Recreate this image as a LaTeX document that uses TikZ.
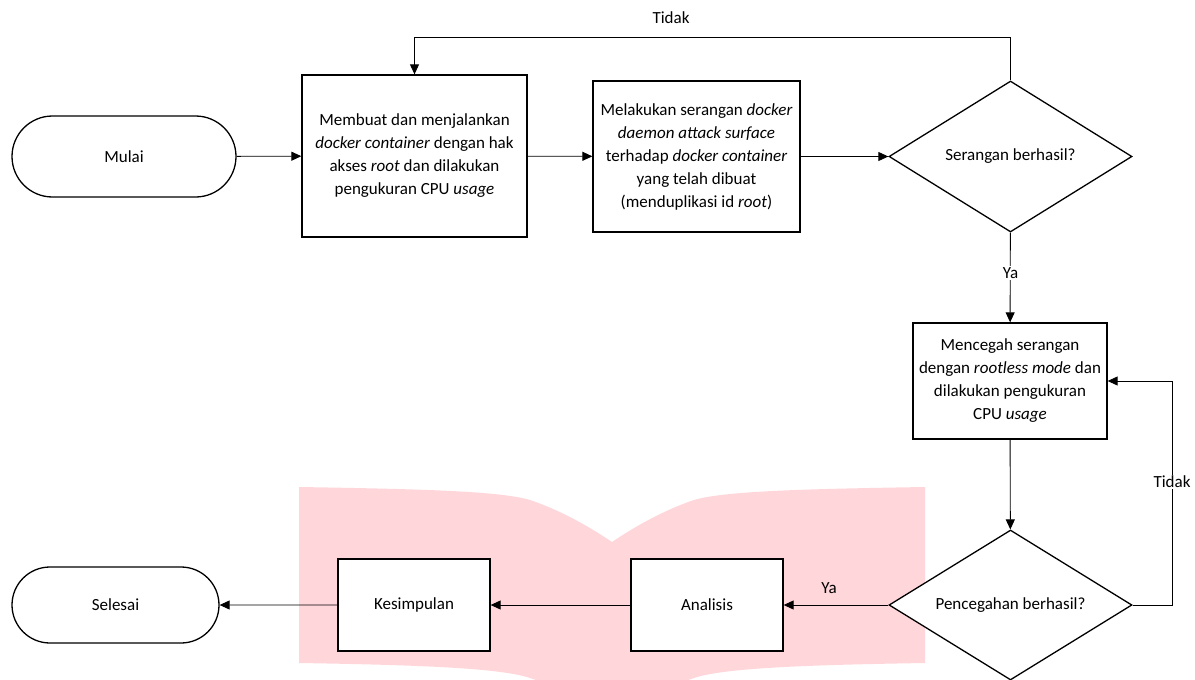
\documentclass[tikz,border=0pt]{standalone}
\usepackage{fontspec}
\setmainfont{Carlito}
\usetikzlibrary{shapes.geometric,shapes.misc,arrows.meta}
\definecolor{pinkbg}{RGB}{255,215,219}
\begin{document}
\begin{tikzpicture}[x=1pt,y=-1pt,
  txt/.style={font=\fontsize{17}{23}\selectfont},
  box/.style={txt, draw, fill=white, line width=1.3pt, rectangle, align=center, inner sep=0pt},
  term/.style={txt, draw, fill=white, line width=1.3pt, rounded rectangle, inner sep=0pt},
  dec/.style={txt, draw, fill=white, line width=1.3pt, diamond, aspect=1.6, inner sep=0pt},
  conn/.style={line width=0.9pt, -{Triangle[length=10pt,width=9pt]}},
  lbl/.style={txt, fill=white, inner sep=1pt}]
\useasboundingbox (0,0) rectangle (1195,680);
% background pink shape
\fill[pinkbg] (299,487) .. controls (420,489) and (500,491) .. (530,500)
  .. controls (560,510) and (590,527) .. (612,542)
  .. controls (634,527) and (664,510) .. (694,500)
  .. controls (724,491) and (804,489) .. (925,487)
  -- (925,663)
  .. controls (804,665) and (724,668) .. (694,678)
  .. controls (664,688) and (634,705) .. (612,720)
  .. controls (590,705) and (560,688) .. (530,678)
  .. controls (500,668) and (420,665) .. (299,663) -- cycle;
% nodes
\node[term, minimum width=224pt, minimum height=81pt] (start) at (124,156.5) {Mulai};
\node[box, minimum width=225pt, minimum height=162pt] (b1) at (414.5,156)
  {Membuat dan menjalankan\\ \textit{docker container} dengan hak\\ akses \textit{root} dan dilakukan\\ pengukuran CPU \textit{usage}};
\node[box, minimum width=207pt, minimum height=151pt] (b2) at (696.5,156.5)
  {Melakukan serangan \textit{docker}\\ \textit{daemon attack surface}\\ terhadap \textit{docker container}\\ yang telah dibuat\\ (menduplikasi id \textit{root})};
\node[dec, minimum width=243pt, minimum height=151pt] (d1) at (1010.5,156.5) {Serangan berhasil?};
\node[box, minimum width=194pt, minimum height=116pt] (b3) at (1010,381)
  {Mencegah serangan\\ dengan \textit{rootless mode} dan\\ dilakukan pengukuran\\ CPU \textit{usage}};
\node[dec, minimum width=243pt, minimum height=150pt] (d2) at (1010.5,605) {Pencegahan berhasil?};
\node[box, minimum width=152pt, minimum height=92pt] (an) at (707,605) {Analisis};
\node[box, minimum width=152pt, minimum height=92pt] (ks) at (414,605) {Kesimpulan};
\node[term, minimum width=207pt, minimum height=76pt] (end) at (115.5,605) {Selesai};
% coordinates
\coordinate (t1) at (1010.5,37);
\coordinate (r1) at (1172,605);
% connectors
\draw[conn] (start) -- (b1);
\draw[conn] (b1) -- (b2);
\draw[conn] (b2) -- (d1);
\draw[conn] (d1.north) -- (t1) -| (b1.north);
\node[txt] (tidak1) at (671,18) {Tidak};
\draw[conn] (d1) -- (b3);
\node[lbl] (ya1) at (1010.5,273) {Ya};
\draw[conn] (b3) -- (d2);
\draw[conn] (d2.east) -- (r1) |- (b3.east);
\node[lbl] (tidak2) at (1172,482) {Tidak};
\draw[conn] (d2) -- (an);
\node[txt] (ya2) at (829,588) {Ya};
\draw[conn] (an) -- (ks);
\draw[conn] (ks) -- (end);
\end{tikzpicture}
\end{document}
